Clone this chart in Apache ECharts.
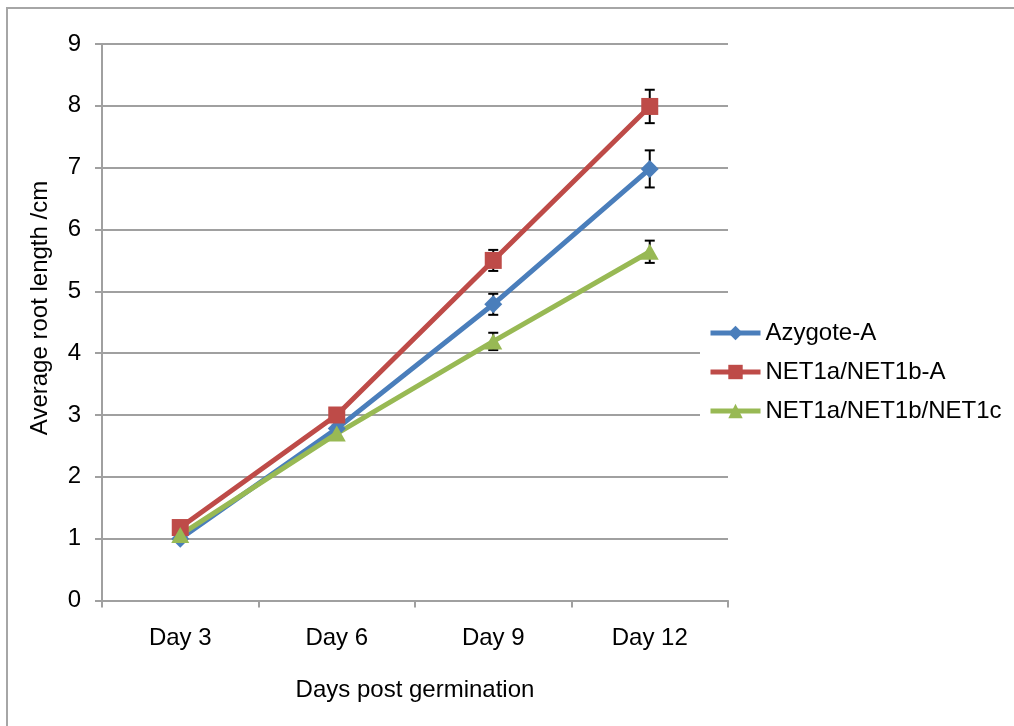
<!DOCTYPE html>
<html>
<head>
<meta charset="utf-8">
<script src="https://cdn.jsdelivr.net/npm/echarts@6/dist/echarts.min.js"></script>
<style>
  html, body { margin: 0; padding: 0; background: #fff; overflow: hidden; }
  #chart { width: 1014px; height: 726px; }
</style>
</head>
<body>
<div id="chart"></div>
<script>
// values
const days = ['Day 3', 'Day 6', 'Day 9', 'Day 12'];
const yTicks = [0, 1, 2, 3, 4, 5, 6, 7, 8, 9];

const azygote = [1.0, 2.78, 4.79, 6.98];
const azygoteErr = [0.04, 0.05, 0.17, 0.3];
const net1ab = [1.18, 3.0, 5.5, 7.99];
const net1abErr = [0.05, 0.06, 0.17, 0.27];
const net1abc = [1.06, 2.7, 4.19, 5.64];
const net1abcErr = [0.04, 0.05, 0.14, 0.18];

const font = "'Liberation Sans', Arial, Helvetica, sans-serif";

function errData(vals, errs) {
  return vals.map((v, i) => [i, v - errs[i], v + errs[i]]);
}

// error bar: vertical line with caps, drawn under the markers
function renderErr(params, api) {
  const x = api.value(0);
  const lo = api.coord([x, api.value(1)]);
  const hi = api.coord([x, api.value(2)]);
  const cap = 5;
  const style = { stroke: '#000', lineWidth: 2 };
  return {
    type: 'group',
    children: [
      { type: 'line', shape: { x1: lo[0], y1: lo[1], x2: hi[0], y2: hi[1] }, style: style },
      { type: 'line', shape: { x1: lo[0] - cap, y1: lo[1], x2: lo[0] + cap, y2: lo[1] }, style: style },
      { type: 'line', shape: { x1: hi[0] - cap, y1: hi[1], x2: hi[0] + cap, y2: hi[1] }, style: style }
    ]
  };
}

function lineSeries(name, data, color, symbol, size) {
  return {
    name: name,
    type: 'line',
    data: data,
    symbol: symbol,
    symbolSize: size,
    z: 3,
    lineStyle: { color: color, width: 5 },
    itemStyle: { color: color },
    emphasis: { disabled: true }
  };
}

function errSeries(vals, errs) {
  return {
    type: 'custom',
    renderItem: renderErr,
    data: errData(vals, errs),
    z: 1,
    silent: true
  };
}

const chart = echarts.init(document.getElementById('chart'));
chart.setOption({
  animation: false,
  textStyle: { fontFamily: font },
  graphic: [
    {
      type: 'rect',
      shape: { x: 7, y: 8, width: 1100, height: 800 },
      style: { fill: 'none', stroke: '#a6a6a6', lineWidth: 2 },
      z: -1
    },
    {
      type: 'text',
      x: 40,
      y: 308,
      rotation: Math.PI / 2,
      style: {
        text: 'Average root length /cm',
        font: '24px ' + font,
        fill: '#000',
        align: 'center',
        verticalAlign: 'middle'
      }
    }
  ],
  grid: { left: 102, right: 286, top: 44, bottom: 125.5 },
  legend: {
    orient: 'vertical',
    left: 700,
    top: 315,
    itemWidth: 50,
    itemHeight: 18,
    itemGap: 15,
    padding: [6, 10, 6, 8],
    backgroundColor: '#fff',
    lineStyle: { width: 5 },
    data: ['Azygote-A', 'NET1a/NET1b-A', 'NET1a/NET1b/NET1c'],
    textStyle: { fontSize: 24, color: '#000', fontFamily: font }
  },
  xAxis: {
    type: 'category',
    data: days,
    boundaryGap: true,
    name: 'Days post germination',
    nameLocation: 'middle',
    nameGap: 78,
    nameTextStyle: { fontSize: 24, color: '#000', fontFamily: font },
    axisLine: { lineStyle: { color: '#a0a0a0', width: 2 } },
    axisTick: { show: true, length: 7, lineStyle: { color: '#a0a0a0', width: 2 } },
    axisLabel: { fontSize: 24, color: '#000', margin: 26 },
    splitLine: { show: false }
  },
  yAxis: {
    type: 'value',
    min: yTicks[0],
    max: yTicks[yTicks.length - 1],
    interval: 1,
    axisLine: { show: true, lineStyle: { color: '#a0a0a0', width: 2 } },
    axisTick: { show: true, length: 7, lineStyle: { color: '#a0a0a0', width: 2 } },
    axisLabel: { fontSize: 24, color: '#000', margin: 21 },
    splitLine: { show: true, lineStyle: { color: '#a0a0a0', width: 2 } }
  },
  series: [
    errSeries(azygote, azygoteErr),
    errSeries(net1ab, net1abErr),
    errSeries(net1abc, net1abcErr),
    lineSeries('Azygote-A', azygote, '#4a7ebb', 'diamond', 18),
    lineSeries('NET1a/NET1b-A', net1ab, '#be4b48', 'rect', 17),
    lineSeries('NET1a/NET1b/NET1c', net1abc, '#98b954', 'triangle', [18, 16])
  ]
});
</script>
</body>
</html>
